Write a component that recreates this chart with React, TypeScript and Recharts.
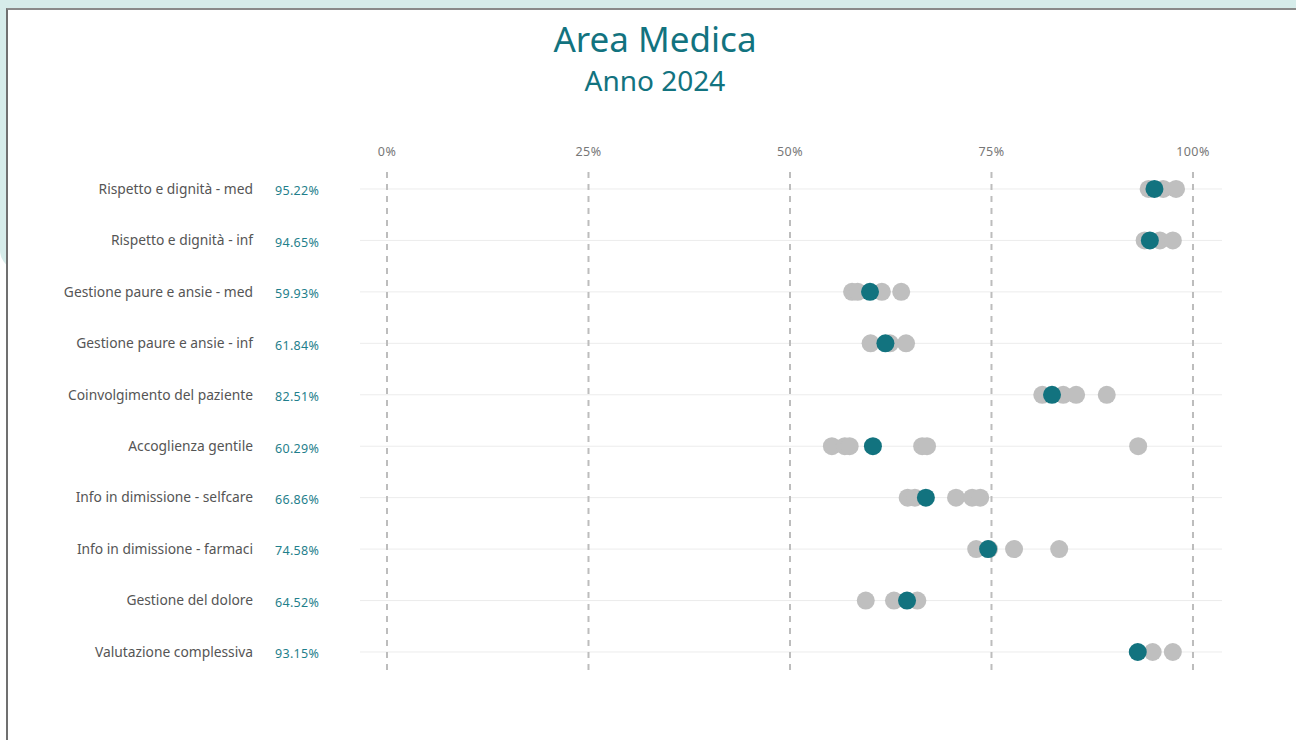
import React from 'react'
import {
  ScatterChart,
  Scatter,
  XAxis,
  YAxis,
  ReferenceLine,
} from 'recharts'

const categories = [
  'Rispetto e dignità - med',
  'Rispetto e dignità - inf',
  'Gestione paure e ansie - med',
  'Gestione paure e ansie - inf',
  'Coinvolgimento del paziente',
  'Accoglienza gentile',
  'Info in dimissione - selfcare',
  'Info in dimissione - farmaci',
  'Gestione del dolore',
  'Valutazione complessiva',
]

// score of Area Medica per item
const mainValues = [95.22, 94.65, 59.93, 61.84, 82.51, 60.29, 66.86, 74.58, 64.52, 93.15]

// other areas
const otherValues = [
  [94.5, 96.3, 97.9],
  [94.0, 95.9, 97.5],
  [57.7, 58.4, 61.4, 63.8],
  [60.0, 62.4, 64.4],
  [81.3, 83.9, 85.5, 89.3],
  [55.2, 56.8, 57.4, 66.4, 67.0, 93.2],
  [64.6, 65.5, 70.6, 72.6, 73.6],
  [73.1, 74.7, 77.8, 83.4],
  [59.4, 62.9, 65.8],
  [95.0, 97.5],
]

const xTicks = [0, 25, 50, 75, 100]

const TEAL = '#12737f'
const GREY = '#bfbfbf'
const FONT = '"Noto Sans", "Open Sans", sans-serif'

const mainData = mainValues.map((v, i) => ({ x: v, y: i }))
const otherData = otherValues.flatMap((vals, i) => vals.map((v) => ({ x: v, y: i })))

const Dot = (fill: string) => (props: any) => (
  <circle cx={props.cx} cy={props.cy} r={9} fill={fill} />
)

const XTick = (props: any) => {
  const { x, payload } = props
  return (
    <text x={x} y={156} textAnchor="middle" fontSize={12.5} letterSpacing={0.4} fill="#777" fontFamily={FONT}>
      {payload.value}%
    </text>
  )
}

const YTick = (props: any) => {
  const { y, payload } = props
  const i = payload.value
  return (
    <g>
      <text x={253} y={y} dy="0.35em" textAnchor="end" fontSize={13.8} fill="#555" fontFamily={FONT}>
        {categories[i]}
      </text>
      <text x={275} y={y + 2} dy="0.35em" textAnchor="start" fontSize={12.5} letterSpacing={0.3} fill="#1f7f8c" fontFamily={FONT}>
        {mainValues[i].toFixed(2)}%
      </text>
    </g>
  )
}

export default function App(): React.ReactElement {
  return (
    <div
      style={{
        position: 'absolute',
        left: 0,
        top: 0,
        width: 1296,
        height: 740,
        overflow: 'hidden',
        background: '#fff',
      }}
    >
      <div
        style={{
          position: 'absolute',
          left: 0,
          top: 0,
          width: 1296,
          height: 270,
          background: '#d6ecea',
          borderBottomLeftRadius: 20,
        }}
      />
      <div
        style={{
          position: 'absolute',
          left: 6,
          top: 8,
          width: 1300,
          height: 740,
          background: '#fff',
          borderLeft: '2px solid #707070',
          borderTop: '2px solid #8a8a8a',
        }}
      />
      <div
        style={{
          position: 'absolute',
          left: 0,
          top: 17,
          width: 1310,
          textAlign: 'center',
          fontFamily: FONT,
          color: TEAL,
        }}
      >
        <div style={{ fontSize: 35, lineHeight: '44px' }}>Area Medica</div>
        <div style={{ fontSize: 28, lineHeight: '38px' }}>Anno 2024</div>
      </div>
      <div style={{ position: 'absolute', left: 0, top: 0 }}>
        <ScatterChart
          width={1296}
          height={740}
          margin={{ top: 142, right: 74, bottom: 70, left: 20 }}
        >
          <XAxis
            type="number"
            dataKey="x"
            orientation="top"
            domain={[-3.35, 103.6]}
            ticks={xTicks}
            height={30}
            axisLine={false}
            tickLine={false}
            tick={<XTick />}
            allowDataOverflow
          />
          <YAxis
            type="number"
            dataKey="y"
            domain={[-0.33, 9.35]}
            reversed
            ticks={categories.map((_, i) => i)}
            width={340}
            axisLine={false}
            tickLine={false}
            tick={<YTick />}
            interval={0}
            allowDataOverflow
          />
          {categories.map((_, i) => (
            <ReferenceLine key={`h-${i}`} y={i} stroke="#ececec" strokeWidth={1} />
          ))}
          {xTicks.map((t) => (
            <ReferenceLine
              key={`v-${t}`}
              x={t}
              stroke="#bdbdbd"
              strokeWidth={2}
              strokeDasharray="6 6"
            />
          ))}
          <Scatter data={otherData} shape={Dot(GREY)} isAnimationActive={false} />
          <Scatter data={mainData} shape={Dot(TEAL)} isAnimationActive={false} />
        </ScatterChart>
      </div>
    </div>
  )
}
